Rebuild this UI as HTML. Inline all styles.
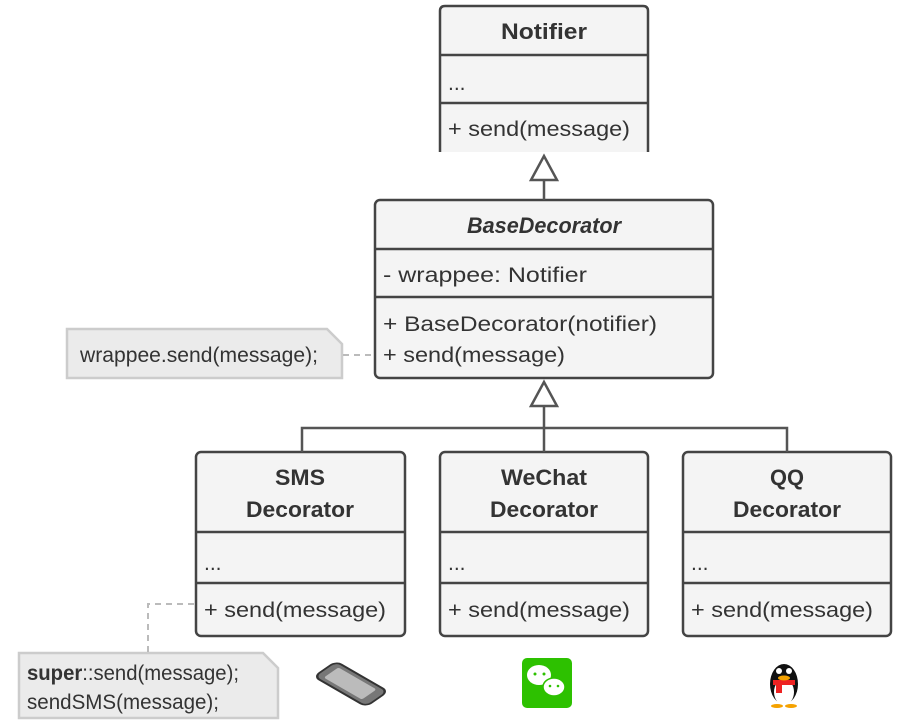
<!DOCTYPE html>
<html><head><meta charset="utf-8"><style>
html,body{margin:0;padding:0;background:#fff;}
svg{display:block;}
text{font-family:"Liberation Sans",sans-serif;fill:#333;font-size:21px;}
.b{font-weight:bold;font-size:22px;}
</style></head><body>
<svg width="900" height="728" viewBox="0 0 900 728" xmlns="http://www.w3.org/2000/svg">
<g stroke="#444" stroke-width="2.5" fill="#f4f4f4">
<path d="M440 152 V11 Q440 6 445 6 H643 Q648 6 648 11 V152" />
<line x1="440" y1="55" x2="648" y2="55"/>
<line x1="440" y1="103" x2="648" y2="103"/>
<rect x="375" y="200" width="338" height="178" rx="5"/>
<line x1="375" y1="249" x2="713" y2="249"/>
<line x1="375" y1="297" x2="713" y2="297"/>
<rect x="196" y="452" width="209" height="184" rx="5"/>
<line x1="196" y1="532" x2="405" y2="532"/><line x1="196" y1="583" x2="405" y2="583"/>
<rect x="440" y="452" width="208" height="184" rx="5"/>
<line x1="440" y1="532" x2="648" y2="532"/><line x1="440" y1="583" x2="648" y2="583"/>
<rect x="683" y="452" width="208" height="184" rx="5"/>
<line x1="683" y1="532" x2="891" y2="532"/><line x1="683" y1="583" x2="891" y2="583"/>
</g>
<g stroke="#555" stroke-width="2.5" fill="none">
<line x1="544" y1="180" x2="544" y2="200"/>
<polygon points="544,156 531,180 557,180" fill="#fff"/>
<line x1="544" y1="406" x2="544" y2="452"/>
<polygon points="544,382 531,406 557,406" fill="#fff"/>
<polyline points="302,452 302,428 787,428 787,452"/>
</g>
<g stroke="#ccc" stroke-width="2.5" fill="#ebebeb">
<path d="M67 329 H327 L342 344 V378 H67 Z"/>
<path d="M19 653 H263 L278 668 V718 H19 Z"/>
</g>
<g stroke="#bbb" stroke-width="2" fill="none" stroke-dasharray="6,5">
<line x1="343" y1="355" x2="375" y2="355"/>
<polyline points="148,652 148,604 196,604"/>
</g>
<text x="544" y="39" text-anchor="middle" class="b" textLength="86" lengthAdjust="spacingAndGlyphs">Notifier</text>
<text x="448" y="90">...</text>
<text x="448" y="136" textLength="182" lengthAdjust="spacingAndGlyphs">+ send(message)</text>
<text x="544" y="233" text-anchor="middle" class="b" font-style="italic" textLength="154" lengthAdjust="spacingAndGlyphs">BaseDecorator</text>
<text x="383" y="282" textLength="204" lengthAdjust="spacingAndGlyphs">- wrappee: Notifier</text>
<text x="383" y="331" textLength="274" lengthAdjust="spacingAndGlyphs">+ BaseDecorator(notifier)</text>
<text x="383" y="362" textLength="182" lengthAdjust="spacingAndGlyphs">+ send(message)</text>
<text x="80" y="362" textLength="238" lengthAdjust="spacingAndGlyphs">wrappee.send(message);</text>
<text x="300" y="485" text-anchor="middle" class="b" textLength="50" lengthAdjust="spacingAndGlyphs">SMS</text>
<text x="300" y="517" text-anchor="middle" class="b" textLength="108" lengthAdjust="spacingAndGlyphs">Decorator</text>
<text x="544" y="485" text-anchor="middle" class="b" textLength="86" lengthAdjust="spacingAndGlyphs">WeChat</text>
<text x="544" y="517" text-anchor="middle" class="b" textLength="108" lengthAdjust="spacingAndGlyphs">Decorator</text>
<text x="787" y="485" text-anchor="middle" class="b" textLength="34" lengthAdjust="spacingAndGlyphs">QQ</text>
<text x="787" y="517" text-anchor="middle" class="b" textLength="108" lengthAdjust="spacingAndGlyphs">Decorator</text>
<text x="204" y="570">...</text><text x="448" y="570">...</text><text x="691" y="570">...</text>
<text x="204" y="617" textLength="182" lengthAdjust="spacingAndGlyphs">+ send(message)</text>
<text x="448" y="617" textLength="182" lengthAdjust="spacingAndGlyphs">+ send(message)</text>
<text x="691" y="617" textLength="182" lengthAdjust="spacingAndGlyphs">+ send(message)</text>
<text x="27" y="680" textLength="212" lengthAdjust="spacingAndGlyphs"><tspan font-weight="bold">super</tspan>::send(message);</text>
<text x="27" y="709" textLength="192" lengthAdjust="spacingAndGlyphs">sendSMS(message);</text>
<g transform="translate(351,684) rotate(30) skewX(-25)">
<rect x="-30" y="-12" width="60" height="24" rx="6" fill="#777" stroke="#333" stroke-width="2"/>
<rect x="-23" y="-8" width="44" height="16" rx="2" fill="#bbb"/>
</g>
<rect x="522" y="658" width="50" height="50" rx="5" fill="#2dc100"/>
<ellipse cx="539" cy="675" rx="12" ry="10" fill="#fff"/>
<ellipse cx="554" cy="687" rx="11" ry="9" fill="#fff" stroke="#2dc100" stroke-width="1.5"/>
<circle cx="535" cy="674" r="1.5" fill="#2dc100"/><circle cx="544" cy="674" r="1.5" fill="#2dc100"/>
<circle cx="550" cy="686" r="1.3" fill="#2dc100"/><circle cx="558" cy="686" r="1.3" fill="#2dc100"/>
<ellipse cx="784" cy="684" rx="14" ry="20" fill="#111"/>
<ellipse cx="784" cy="692" rx="10" ry="13" fill="#fff"/>
<rect x="773" y="680" width="22" height="5" fill="#e22"/>
<rect x="776" y="684" width="6" height="9" fill="#e22"/>
<ellipse cx="784" cy="678" rx="6" ry="2.5" fill="#f5a200"/>
<circle cx="779" cy="671" r="3" fill="#fff"/><circle cx="789" cy="671" r="3" fill="#fff"/>
<ellipse cx="777" cy="706" rx="6" ry="2" fill="#f5a200"/><ellipse cx="791" cy="706" rx="6" ry="2" fill="#f5a200"/>
</svg>
</body></html>
